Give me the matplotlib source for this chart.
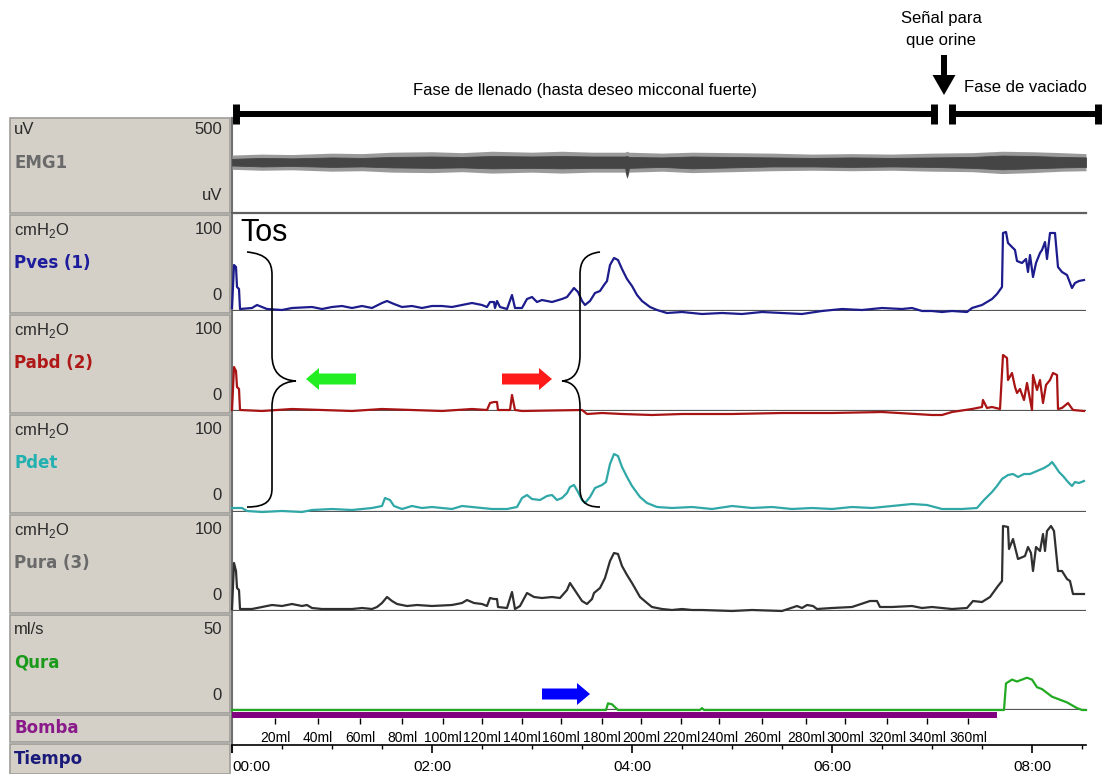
import matplotlib
matplotlib.use('Agg')
import matplotlib.pyplot as plt
from matplotlib.path import Path
from matplotlib.patches import PathPatch, Rectangle
import numpy as np

# Estudio urodinamico: tiempo en minutos, presiones en cmH2O, flujo en ml/s

pves_t = [0.00, 0.02, 0.04, 0.05, 0.07, 0.08, 0.20, 0.25, 0.35, 0.50, 0.60, 0.80, 0.90, 1.00, 1.10,
          1.20, 1.30, 1.40, 1.50, 1.55, 1.62, 1.70, 1.80, 1.90, 2.00, 2.10, 2.20, 2.30, 2.40, 2.50,
          2.55, 2.58, 2.62, 2.63, 2.65, 2.68, 2.75, 2.80, 2.83, 2.90, 2.95, 3.00, 3.05, 3.10, 3.20,
          3.30, 3.35, 3.42, 3.46, 3.50, 3.53, 3.58, 3.63, 3.68, 3.72, 3.75, 3.78, 3.82, 3.86, 3.90,
          3.95, 4.00, 4.05, 4.10, 4.18, 4.25, 4.35, 4.50, 4.70, 4.90, 5.10, 5.30, 5.50, 5.70, 5.90,
          6.10, 6.30, 6.50, 6.70, 6.80, 6.90, 7.00, 7.10, 7.20, 7.35, 7.40, 7.50, 7.55, 7.60, 7.65,
          7.70, 7.71, 7.74, 7.76, 7.80, 7.83, 7.85, 7.90, 7.94, 7.96, 7.98, 8.01, 8.04, 8.08, 8.10,
          8.13, 8.15, 8.18, 8.23, 8.26, 8.30, 8.35, 8.40, 8.43, 8.47, 8.52]
pves_v = [3, 46, 44, 24, 22, 2, 3, 6, 2, 1, 3, 4, 2, 4, 5,
          3, 5, 3, 8, 10, 7, 4, 5, 3, 5, 5, 4, 6, 8, 6,
          4, 9, 9, 3, 10, 4, 2, 16, 3, 3, 12, 14, 9, 11, 9,
          12, 14, 23, 19, 10, 6, 10, 18, 20, 26, 30, 46, 53, 51, 42,
          32, 25, 16, 10, 4, 1, -2, -1, -3, -2, -3, -1, -2, -3, 0,
          2, 1, 3, 2, 3, 0, 0, -1, 0, -1, 3, 6, 9, 12, 17,
          24, 78, 79, 68, 64, 61, 50, 48, 52, 39, 56, 34, 48, 58, 61,
          69, 52, 78, 78, 44, 39, 36, 23, 28, 30, 31]

pabd_t = [0.00, 0.02, 0.04, 0.05, 0.07, 0.08, 0.30, 0.60, 0.90, 1.20, 1.50, 1.80, 2.10, 2.40, 2.55,
          2.58, 2.62, 2.65, 2.66, 2.78, 2.80, 2.83, 2.90, 3.50, 3.55, 3.70, 3.90, 4.20, 4.50, 5.00,
          5.50, 6.00, 6.50, 7.00, 7.10, 7.20, 7.40, 7.50, 7.51, 7.55, 7.60, 7.68, 7.71, 7.75, 7.76,
          7.80, 7.83, 7.85, 7.88, 7.92, 7.95, 8.00, 8.01, 8.05, 8.08, 8.11, 8.14, 8.18, 8.21, 8.25,
          8.26, 8.30, 8.36, 8.41, 8.52]
pabd_v = [1, 44, 40, 24, 22, 1, 0, 2, 1, 0, 2, 1, 0, 2, 1,
          8, 9, 9, 1, 1, 16, 1, 0, 1, -3, -2, -3, -4, -3, -3,
          -2, -2, -1, -4, -4, -1, 2, 4, 11, 3, 4, 2, 56, 53, 31,
          38, 24, 18, 22, 11, 28, 1, 36, 21, 31, 8, 26, 31, 38, 36,
          2, 3, 8, 1, 0]

pdet_t = [0.00, 0.10, 0.15, 0.30, 0.50, 0.70, 0.80, 1.00, 1.20, 1.40, 1.50, 1.53, 1.58, 1.62, 1.70,
          1.80, 1.90, 2.00, 2.20, 2.30, 2.40, 2.50, 2.60, 2.75, 2.85, 2.90, 2.95, 3.00, 3.08, 3.15,
          3.20, 3.25, 3.30, 3.35, 3.38, 3.42, 3.46, 3.50, 3.53, 3.58, 3.63, 3.70, 3.74, 3.78, 3.82,
          3.86, 3.90, 3.95, 4.00, 4.08, 4.15, 4.25, 4.40, 4.60, 4.80, 5.00, 5.20, 5.40, 5.60, 5.80,
          6.00, 6.20, 6.40, 6.60, 6.80, 6.95, 7.10, 7.30, 7.45, 7.52, 7.60, 7.65, 7.70, 7.76, 7.81,
          7.86, 7.92, 7.98, 8.05, 8.12, 8.17, 8.20, 8.23, 8.27, 8.31, 8.36, 8.40, 8.43, 8.47, 8.52]
pdet_v = [4, 4, 1, 0, 1, 0, 2, 3, 2, 4, 6, 14, 12, 6, 3,
          6, 4, 5, 3, 6, 5, 4, 3, 3, 5, 14, 17, 13, 12, 16,
          17, 12, 14, 19, 25, 27, 20, 12, 9, 15, 24, 27, 30, 48, 58,
          56, 45, 35, 26, 15, 9, 5, 4, 5, 3, 6, 4, 5, 3, 4,
          3, 5, 4, 6, 8, 7, 3, 3, 4, 12, 20, 26, 33, 37, 38,
          35, 38, 38, 41, 44, 47, 50, 46, 40, 36, 30, 26, 30, 29, 31]

pura_t = [0.00, 0.02, 0.04, 0.05, 0.07, 0.08, 0.20, 0.35, 0.40, 0.50, 0.60, 0.70, 0.75, 0.80, 0.90,
          1.20, 1.30, 1.40, 1.45, 1.50, 1.55, 1.60, 1.65, 1.75, 1.85, 2.00, 2.20, 2.30, 2.35, 2.42,
          2.50, 2.55, 2.58, 2.62, 2.65, 2.66, 2.75, 2.80, 2.83, 2.88, 2.95, 3.02, 3.10, 3.20, 3.28,
          3.35, 3.38, 3.42, 3.50, 3.55, 3.60, 3.62, 3.68, 3.73, 3.78, 3.82, 3.86, 3.90, 3.95, 4.00,
          4.08, 4.15, 4.20, 4.30, 4.40, 4.50, 4.60, 4.70, 5.00, 5.20, 5.50, 5.65, 5.70, 5.75, 5.81,
          5.85, 6.00, 6.20, 6.38, 6.45, 6.48, 6.60, 6.80, 6.90, 7.00, 7.20, 7.35, 7.41, 7.50, 7.58,
          7.66, 7.70, 7.71, 7.76, 7.77, 7.81, 7.86, 7.93, 7.96, 7.99, 8.01, 8.04, 8.08, 8.11, 8.13,
          8.15, 8.19, 8.22, 8.26, 8.30, 8.35, 8.38, 8.41, 8.52]
pura_v = [2, 48, 40, 23, 21, 2, 2, 5, 6, 5, 7, 5, 6, 3, 2,
          2, 3, 2, 4, 8, 14, 10, 7, 5, 6, 5, 6, 8, 11, 8,
          7, 5, 13, 12, 12, 4, 3, 19, 2, 5, 18, 14, 13, 14, 13,
          21, 28, 22, 10, 7, 12, 18, 23, 33, 50, 58, 57, 45, 36, 28,
          14, 8, 4, 2, 1, 2, 1, 1, 0, 1, 0, 5, 3, 6, 5,
          2, 3, 4, 10, 10, 4, 4, 5, 3, 4, 2, 3, 10, 9, 14,
          25, 30, 85, 84, 62, 72, 52, 55, 64, 58, 40, 64, 60, 77, 60,
          80, 85, 80, 40, 40, 32, 30, 17, 17]

qura_t = [0.00, 3.74, 3.76, 3.80, 3.84, 3.86, 4.68, 4.70, 4.72, 7.72, 7.74, 7.80, 7.85, 7.95, 8.00,
          8.05, 8.10, 8.20, 8.30, 8.35, 8.45, 8.50, 8.54]
qura_v = [0, 0, 3.5, 3, 1, 0, 0, 1, 0, 0, 14, 16, 15, 17, 16,
          12, 11, 7, 5, 4, 1, 0, 0]

# EMG: envolventes de la banda (uV), nucleo oscuro y borde claro
emg_t = [0.0, 0.3, 0.6, 1.0, 1.3, 1.6, 2.0, 2.3, 2.6, 3.0, 3.3, 3.6, 3.93, 3.95, 3.97,
         4.3, 4.6, 5.0, 5.4, 5.8, 6.2, 6.6, 7.0, 7.4, 7.7, 8.0, 8.3, 8.54]
emg_alto = [70, 80, 75, 85, 80, 90, 95, 90, 100, 95, 100, 95, 95, 100, 90,
            85, 95, 90, 85, 80, 85, 80, 85, 90, 105, 100, 90, 85]
emg_bajo = [0, -10, -5, -15, -10, -20, -25, -20, -30, -25, -30, -25, -25, -120, -25,
            -15, -30, -20, -10, -10, -15, -10, -15, -25, -40, -30, -20, -15]
emg_borde_alto = [110, 120, 115, 130, 125, 140, 145, 135, 150, 140, 150, 140, 140, 150, 140,
                  130, 140, 135, 130, 120, 125, 120, 130, 135, 150, 145, 135, 125]
emg_borde_bajo = [-40, -50, -45, -60, -55, -70, -75, -65, -80, -70, -80, -70, -70, -140, -70,
                  -60, -75, -65, -55, -50, -55, -50, -60, -65, -85, -75, -60, -55]

bomba_fin = 7.65
vol_t = [0.43, 0.86, 1.28, 1.70, 2.11, 2.50, 2.90, 3.29, 3.70, 4.09, 4.49, 4.87, 5.30, 5.74, 6.13,
         6.55, 6.95, 7.36]
vol_labels = ['%dml' % v for v in range(20, 380, 20)]
tiempo_ticks = [0, 2, 4, 6, 8]
tiempo_labels = ['00:00', '02:00', '04:00', '06:00', '08:00']

plt.rcParams['font.family'] = ['Liberation Sans', 'DejaVu Sans']
plt.rcParams['mathtext.fontset'] = 'custom'
plt.rcParams['mathtext.rm'] = 'Liberation Sans'

W, H = 1102, 774
T_MAX = 8.54
fig = plt.figure(figsize=(W / 100, H / 100), dpi=100)


def px_axes(x0, y0, x1, y1, z=1):
    ax = fig.add_axes([x0 / W, 1 - y1 / H, (x1 - x0) / W, (y1 - y0) / H], zorder=z)
    ax.patch.set_alpha(0)
    return ax


# fondo con el panel de etiquetas
bg = px_axes(0, 0, W, H, z=0)
bg.set_xlim(0, W)
bg.set_ylim(H, 0)
bg.axis('off')
gris = '#d4d0c8'
filas = [(118, 213), (215, 313), (315, 413), (415, 513), (515, 613), (615, 713), (715, 742), (744, 774)]
for top, bot in filas:
    bg.add_patch(Rectangle((10, top), 220, bot - top, facecolor=gris, edgecolor='#a09d98', lw=1.2))

txt_unid = dict(fontsize=12, color='#2a2a2a', va='center')
txt_nom = dict(fontsize=12, fontweight='bold', va='center', family='DejaVu Sans')
canales = [(130, 'uV', '500', 'EMG1', '#6a6a6a', 'uV'),
           (230, 'cmH$_\\mathrm{2}$O', '100', 'Pves (1)', '#1c1c9c', '0'),
           (330, 'cmH$_\\mathrm{2}$O', '100', 'Pabd (2)', '#b01818', '0'),
           (430, 'cmH$_\\mathrm{2}$O', '100', 'Pdet', '#22b0b0', '0'),
           (530, 'cmH$_\\mathrm{2}$O', '100', 'Pura (3)', '#6a6a6a', '0'),
           (630, 'ml/s', '50', 'Qura', '#1a9a1a', '0')]
for y, unid, vmax, nombre, col, vmin in canales:
    bg.text(14, y, unid, **txt_unid)
    bg.text(222, y, vmax, ha='right', **txt_unid)
    bg.text(14, y + 33, nombre, color=col, **txt_nom)
    bg.text(222, y + 65, vmin, ha='right', **txt_unid)
bg.text(14, 728, 'Bomba', color='#8a1a8a', **txt_nom)
bg.text(14, 759, 'Tiempo', color='#1a1a7a', **txt_nom)

# borde izquierdo y separador del EMG
bg.plot([232, 232], [118, 752], color='#707070', lw=1.5)
bg.plot([232, 1086], [213, 213], color='#606060', lw=1.6)

# EMG
ax = px_axes(232, 118, 1086, 213)
ax.fill_between(emg_t, emg_borde_bajo, emg_borde_alto, color='#9a9a9a', lw=0)
ax.fill_between(emg_t, emg_bajo, emg_alto, color='#454545', lw=0.6)
ax.set_xlim(0, T_MAX)
ax.set_ylim(-500, 500)
ax.axis('off')

# presiones
presiones = [(311, pves_t, pves_v, '#1c1c8c'),
             (411, pabd_t, pabd_v, '#a81414'),
             (512, pdet_t, pdet_v, '#30a8a8'),
             (611, pura_t, pura_v, '#303030')]
for y0, t, v, col in presiones:
    ax = px_axes(232, y0 - 100, 1086, y0)
    ax.axhline(0, color='#555555', lw=1.6)
    ax.plot(t, v, color=col, lw=1.6, clip_on=False)
    ax.set_xlim(0, T_MAX)
    ax.set_ylim(0, 100)
    ax.axis('off')

# flujo
ax = px_axes(232, 615, 1086, 710)
ax.axhline(0, color='#555555', lw=1.6)
ax.plot(qura_t, qura_v, color='#22aa22', lw=1.6, clip_on=False)
ax.set_xlim(0, T_MAX)
ax.set_ylim(0, 50)
ax.axis('off')

# bomba y volumen infundido
ax = px_axes(232, 712, 1086, 718)
ax.barh(0.5, bomba_fin, left=0, height=1, color='#800080')
ax.set_xlim(0, T_MAX)
ax.set_ylim(0, 1)
for s in ax.spines.values():
    s.set_visible(False)
ax.set_yticks([])
ax.set_xticks(vol_t, vol_labels)
ax.tick_params(axis='x', length=4, width=1, pad=5, labelsize=10)

# eje de tiempo
ax = px_axes(232, 744, 1086, 745)
ax.set_xlim(0, T_MAX)
for s in ['top', 'left', 'right']:
    ax.spines[s].set_visible(False)
ax.spines['bottom'].set_linewidth(1.2)
ax.set_yticks([])
ax.set_xticks(tiempo_ticks, tiempo_labels)
ax.set_xticks(np.arange(0, 8.6, 0.5), minor=True)
ax.tick_params(axis='x', which='major', length=6, width=1.2, pad=5, labelsize=11)
ax.tick_params(axis='x', which='minor', length=3, width=1)
ax.get_xticklabels()[0].set_ha('left')

# anotaciones encima
fg = px_axes(0, 0, W, H, z=10)
fg.set_xlim(0, W)
fg.set_ylim(H, 0)
fg.axis('off')

fg.plot([236, 934], [114, 114], color='black', lw=4.3, solid_capstyle='butt')
fg.plot([952, 1098], [114, 114], color='black', lw=4.3, solid_capstyle='butt')
for x in [236, 934, 952, 1098]:
    fg.plot([x, x], [104, 124], color='black', lw=5, solid_capstyle='butt')
fg.text(585, 90, 'Fase de llenado (hasta deseo micconal fuerte)', fontsize=12, ha='center', va='center')
fg.text(1025, 87, 'Fase de vaciado', fontsize=12, ha='center', va='center')
fg.text(941, 18, 'Señal para', fontsize=12, ha='center', va='center')
fg.text(941, 40, 'que orine', fontsize=12, ha='center', va='center')
fg.arrow(944, 55, 0, 40, width=6, head_width=23, head_length=20, length_includes_head=True,
         color='black', lw=0)

fg.text(240, 241, 'Tos', fontsize=22, ha='left', va='baseline')

# llaves de la tos
codes = [Path.MOVETO, Path.CURVE4, Path.CURVE4, Path.CURVE4, Path.LINETO,
         Path.CURVE4, Path.CURVE4, Path.CURVE4, Path.CURVE4, Path.CURVE4, Path.CURVE4,
         Path.LINETO, Path.CURVE4, Path.CURVE4, Path.CURVE4]


def llave(xe, xs, xp):
    pts = [(xe, 252), (xs - (xs - xe) * 0.2, 254), (xs, 262), (xs, 275), (xs, 355),
           (xs, 372), (xs + (xp - xs) * 0.35, 380), (xp, 381),
           (xs + (xp - xs) * 0.35, 382), (xs, 390), (xs, 407), (xs, 488),
           (xs, 500), (xs - (xs - xe) * 0.2, 507), (xe, 507)]
    return PathPatch(Path(pts, codes), facecolor='none', edgecolor='black', lw=1.2)


fg.add_patch(llave(247, 272, 296))
fg.add_patch(llave(600, 580, 562))

flecha = dict(width=11, head_width=22, head_length=13, length_includes_head=True, lw=0)
fg.arrow(356, 379, -50, 0, color='#22ee22', **flecha)
fg.arrow(502, 379, 50, 0, color='#ff1a1a', **flecha)
fg.arrow(542, 694, 48, 0, color='#0000ff', **flecha)

fig.savefig('out.png', dpi=100)
